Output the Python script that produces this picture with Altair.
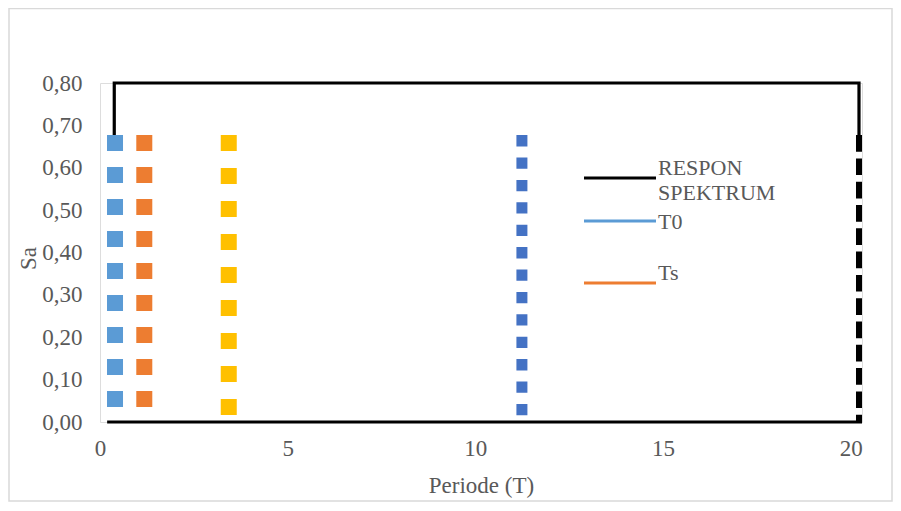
import altair as alt
import pandas as pd

# ---------------- data ----------------
# vertical marker series (period T, top Sa, bottom Sa)
marker_names = ["T0", "Ts", "T1", "T2", "Tend"]
marker_T = [0.40, 1.18, 3.43, 11.24, 20.22]
marker_top = [0.677, 0.677, 0.677, 0.677, 0.677]
marker_bottom = [0.0, 0.0, 0.0, 0.0, 0.0]

# response spectrum outline (solid black)
spectrum_T = [0.38, 0.38, 20.22, 20.22]
spectrum_Sa = [0.677, 0.80, 0.80, 0.677]
baseline_T = [0.19, 20.30]
baseline_Sa = [0.0, 0.0]

legend_labels = ["RESPON SPEKTRUM", "T0", "Ts"]

x_ticks = [0, 5, 10, 15, 20]
y_ticks = [0.0, 0.1, 0.2, 0.3, 0.4, 0.5, 0.6, 0.7, 0.8]

# ---------------- styles ----------------
marker_style = {
    "T0": dict(color="#5B9BD5", strokeWidth=16, strokeDash=[16, 16]),
    "Ts": dict(color="#ED7D31", strokeWidth=16, strokeDash=[16, 16]),
    "T1": dict(color="#FFC000", strokeWidth=16, strokeDash=[16, 17]),
    "T2": dict(color="#4472C4", strokeWidth=11, strokeDash=[11.3, 11.1]),
    "Tend": dict(color="#000000", strokeWidth=6, strokeDash=[16.7, 6.6]),
}
legend_colors = ["#000000", "#5B9BD5", "#ED7D31"]
legend_line_y = [95, 138, 200]
legend_text_y = [84.5, 138.5, 190]

FONT = "Liberation Serif"
TXT = "#595959"

W, H = 762, 339

xs = alt.Scale(domain=[0, 20.3], nice=False, zero=False)
ys = alt.Scale(domain=[0, 0.8], nice=False, zero=False)

X = alt.X(
    "T:Q",
    scale=xs,
    axis=alt.Axis(
        values=x_ticks, title="Periode (T)", grid=False, domain=False, ticks=False,
        tickSize=0, labelPadding=15, titlePadding=14, labelFlush=False,
        labelFont=FONT, labelFontSize=23, labelColor=TXT,
        titleFont=FONT, titleFontSize=23, titleFontWeight="normal", titleColor=TXT,
    ),
)
Y = alt.Y(
    "Sa:Q",
    scale=ys,
    axis=alt.Axis(
        values=y_ticks, title="Sa", grid=False, domain=False, ticks=False,
        tickSize=0, labelPadding=18, labelFlush=False,
        labelExpr="replace(format(datum.value, '.2f'), '.', ',')",
        labelFont=FONT, labelFontSize=23, labelColor=TXT,
        titleFont=FONT, titleFontSize=23, titleFontWeight="normal", titleColor=TXT,
        titleX=-60, titleY=175, titleAngle=270, titleBaseline="bottom", titleAlign="center",
    ),
)

layers = []

# chart border
border = alt.Chart(pd.DataFrame({"a": [0]})).mark_rect(
    fillOpacity=0, stroke="#D9D9D9", strokeWidth=1.5
).encode(
    x=alt.value(-91), x2=alt.value(792), y=alt.value(-74.5), y2=alt.value(418)
)
layers.append(border)

# baseline
base_df = pd.DataFrame({"T": baseline_T, "Sa": baseline_Sa, "o": range(len(baseline_T))})
layers.append(
    alt.Chart(base_df).mark_line(color="black", strokeWidth=3.2, strokeCap="butt")
    .encode(x=X, y=Y, order="o:Q")
)

# response spectrum solid outline
spec_df = pd.DataFrame({"T": spectrum_T, "Sa": spectrum_Sa, "o": range(len(spectrum_T))})
layers.append(
    alt.Chart(spec_df).mark_line(color="black", strokeWidth=3.2, strokeCap="butt", strokeJoin="miter")
    .encode(x=X, y=Y, order="o:Q")
)

# vertical dashed marker series
mk_df = pd.DataFrame({"name": marker_names, "T": marker_T, "Sa": marker_top, "Sa2": marker_bottom})
for name in marker_names:
    st = marker_style[name]
    layers.append(
        alt.Chart(mk_df).transform_filter(alt.datum.name == name)
        .mark_rule(color=st["color"], strokeWidth=st["strokeWidth"],
                   strokeDash=st["strokeDash"], strokeCap="butt")
        .encode(x=X, y=Y, y2="Sa2:Q")
    )

# manual legend
leg_df = pd.DataFrame({"label": legend_labels})
for i, lab in enumerate(legend_labels):
    sub = alt.Chart(leg_df).transform_filter(alt.datum.label == lab)
    layers.append(
        sub.mark_rule(color=legend_colors[i], strokeWidth=3.2, strokeCap="butt")
        .encode(x=alt.value(484), x2=alt.value(556),
                y=alt.value(legend_line_y[i]), y2=alt.value(legend_line_y[i]))
    )
    layers.append(
        sub.mark_text(align="left", baseline="middle", font=FONT, fontSize=22,
                      color=TXT, lineBreak=" ", lineHeight=25.5)
        .encode(x=alt.value(558), y=alt.value(legend_text_y[i]), text="label:N")
    )

chart = alt.layer(*layers).properties(
    width=W, height=H,
    autosize=alt.AutoSizeParams(type="none"),
    padding={"left": 92, "top": 75, "right": 31, "bottom": 80},
).configure_view(stroke=None).configure(background="white")

chart.save("out.html", embed_options={"renderer": "svg", "actions": False})
